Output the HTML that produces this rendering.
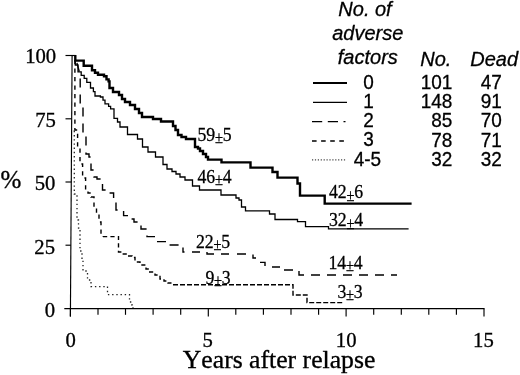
<!DOCTYPE html>
<html><head><meta charset="utf-8"><title>Survival after relapse</title>
<style>
html,body{margin:0;padding:0;background:#fff;}
svg{display:block}
.s{font-family:"Liberation Serif","Times New Roman",serif;fill:#000;font-kerning:none}
.a{font-family:"Liberation Sans",Arial,sans-serif;fill:#000;font-kerning:none}
.i{font-style:italic}
</style></head>
<body>
<svg width="520" height="375" viewBox="0 0 520 375">
<rect width="520" height="375" fill="#fff"/>
<g stroke="#000" stroke-width="1.15" fill="none">
<line x1="64.3" y1="308.6" x2="484.5" y2="308.6"/>
<line x1="70.4" y1="316.4" x2="72.1" y2="55"/>
<line x1="70.4" y1="308.5" x2="70.4" y2="316.6"/><line x1="98.0" y1="308.5" x2="98.0" y2="314.8"/><line x1="125.5" y1="308.5" x2="125.5" y2="314.8"/><line x1="153.1" y1="308.5" x2="153.1" y2="314.8"/><line x1="180.7" y1="308.5" x2="180.7" y2="314.8"/><line x1="208.3" y1="308.5" x2="208.3" y2="316.6"/><line x1="235.8" y1="308.5" x2="235.8" y2="314.8"/><line x1="263.4" y1="308.5" x2="263.4" y2="314.8"/><line x1="291.0" y1="308.5" x2="291.0" y2="314.8"/><line x1="318.6" y1="308.5" x2="318.6" y2="314.8"/><line x1="346.1" y1="308.5" x2="346.1" y2="316.6"/><line x1="373.7" y1="308.5" x2="373.7" y2="314.8"/><line x1="401.3" y1="308.5" x2="401.3" y2="314.8"/><line x1="428.8" y1="308.5" x2="428.8" y2="314.8"/><line x1="456.4" y1="308.5" x2="456.4" y2="314.8"/><line x1="484.0" y1="308.5" x2="484.0" y2="316.6"/>
<line x1="65.5" y1="55.5" x2="75.6" y2="55.5"/><line x1="65.5" y1="118.8" x2="71.7" y2="118.8"/><line x1="65.5" y1="182.0" x2="71.3" y2="182.0"/><line x1="65.5" y1="245.2" x2="70.9" y2="245.2"/>
</g>
<g fill="none" stroke="#000" stroke-linejoin="miter">
<path d="M74.5,131H74.3V194H77V220H78.5V228H80V251H82V259H83V271H87.5V280H91V286.6H107.5V294.6H129.5V302H132V305H133V308" stroke="#222" stroke-width="1.3" stroke-dasharray="1.4 2.8"/>
<path d="M74.9,58H74.9V130H77.6V148H80V164H82.6V178H85.6V190H88V193H91V197H94V206H96.5V212H99V222H101V234H103V236.6" stroke-width="1.4" stroke-dasharray="4.3 4.2" stroke-dashoffset="6.5"/>
<path d="M103,236.6H118.5V252H122V254H128V256H132V257.5H135V262H140V263.5H142V265H146V269H149V272H155V275H160V279H164V281H168V283H171.5" stroke-width="1.4" stroke-dasharray="4.2 3.2"/>
<path d="M173,284.8H293V295H307V302.6H342.4" stroke-width="1.4" stroke-dasharray="5 2"/>
<path d="M75.6,58L80.2,75H80.2V104H83V136H86V154H89V157H91V170H94V177H97V179H102.5V190H108V193H113.6V200H116V210H123.6V215.6H130V219H134V222H141V229H147V236.6H155V241.6H167V245H183V252H184.5" stroke-width="1.4" stroke-dasharray="9 7" stroke-dashoffset="11"/>
<path d="M192,252H200M207,252V254H214M221,254H229M237,254H246M253,254.6V258H256M260,262.4H265V266M272,267H280M284,270H293M299,271V275H304M311,275H397" stroke-width="1.4" stroke-dasharray="9 7"/>
<path d="M75.3,60H75.3V65H78V71.8H81.2V75.3H84.2V78.4H86.8V82.4H90.5V88H93.4V91.6H95V96H100.4V97H103V100.2H105V103.8H108.6V106.3H110.6V108.8H114V118.4H117.5V122H120V127H127.5V134.5H137.5V139H142.5V147H148V152H155.5V157H163V164.5H167V169H172V171.5H176V174H180V177H185V180H192.5V186H199.5V190H221V195H236V198H239V200H241.5V207H245.5V210.8H269.5V214H275V219.5H297.5V221.6H305.5V226.6H328.5V228.8H408.6" stroke-width="1.3"/>
<path d="M75.3,54.9H75.3V60.6H83.7V65.7H92V70.3H95V72.8H98V74.8H104V76.3H106.5V79.4H108.6V81.4H109.5V88H113V92H119V95H122V99H125V102H130V105H135V109H139V113H142V117H153V119H161V121.5H173V126H175.5V130H178V135H181.5V137H186V139H195V147H198V148.5H200V151H203V154H206V157H208V159.6H221.5V162.4H250.5V167.6H272.5V172H277.5V177.6H297.5V183.5H300V195.6H324.7V203.6H411.6" stroke-width="2.4"/>
</g>
<g stroke="#000" fill="none">
<line x1="313" y1="83" x2="347" y2="83" stroke-width="2.2"/>
<line x1="313" y1="102.4" x2="347" y2="102.4" stroke-width="1.3"/>
<line x1="312" y1="121.6" x2="345.5" y2="121.6" stroke-width="1.3" stroke-dasharray="10.2 5.6 10.2 5.5 2 0"/>
<line x1="312" y1="140.9" x2="344.6" y2="140.9" stroke-width="1.5" stroke-dasharray="4.6 4.5"/>
<line x1="312" y1="159.8" x2="346" y2="159.8" stroke="#444" stroke-width="1.2" stroke-dasharray="1.2 1.7"/>
</g>
<text transform="translate(56.2 63.3) scale(0.94 1)" class="s" font-size="22" text-anchor="end" stroke="#000" stroke-width="0.35">100</text><text transform="translate(55.8 126.8) scale(0.94 1)" class="s" font-size="22" text-anchor="end" stroke="#000" stroke-width="0.35">75</text><text transform="translate(55.4 189.7) scale(0.94 1)" class="s" font-size="22" text-anchor="end" stroke="#000" stroke-width="0.35">50</text><text transform="translate(55.0 253.7) scale(0.94 1)" class="s" font-size="22" text-anchor="end" stroke="#000" stroke-width="0.35">25</text><text transform="translate(55.2 316.5) scale(0.94 1)" class="s" font-size="22" text-anchor="end" stroke="#000" stroke-width="0.35">0</text><text transform="translate(70.6 346.7) scale(0.94 1)" class="s" font-size="22" text-anchor="middle" stroke="#000" stroke-width="0.35">0</text><text transform="translate(207.6 347.1) scale(0.94 1)" class="s" font-size="22" text-anchor="middle" stroke="#000" stroke-width="0.35">5</text><text transform="translate(346.2 347.1) scale(0.94 1)" class="s" font-size="22" text-anchor="middle" stroke="#000" stroke-width="0.35">10</text><text transform="translate(483.4 347.4) scale(0.94 1)" class="s" font-size="22" text-anchor="middle" stroke="#000" stroke-width="0.35">15</text>
<text x="0.6" y="188.4" class="s" font-size="25" stroke="#000" stroke-width="0.35">%</text>
<text x="182.8" y="367.6" class="s" font-size="25.7" stroke="#000" stroke-width="0.35">Years after relapse</text>
<text transform="translate(197.5 141) scale(.91 1)" class="s" font-size="19.5" stroke="#000" stroke-width="0.3">59<tspan font-size="16" dy="2.2" dx="-0.3">±</tspan><tspan dy="-2.2" dx="-0.3">5</tspan></text>
<text transform="translate(197.5 183) scale(.91 1)" class="s" font-size="19.5" stroke="#000" stroke-width="0.3">46<tspan font-size="16" dy="2.2" dx="-0.3">±</tspan><tspan dy="-2.2" dx="-0.3">4</tspan></text>
<text transform="translate(196 248) scale(.91 1)" class="s" font-size="19.5" stroke="#000" stroke-width="0.3">22<tspan font-size="16" dy="2.2" dx="-0.3">±</tspan><tspan dy="-2.2" dx="-0.3">5</tspan></text>
<text transform="translate(205.5 283.6) scale(.91 1)" class="s" font-size="19.5" stroke="#000" stroke-width="0.3">9<tspan font-size="16" dy="2.2" dx="-0.3">±</tspan><tspan dy="-2.2" dx="-0.3">3</tspan></text>
<text transform="translate(329 198.3) scale(.91 1)" class="s" font-size="19.5" stroke="#000" stroke-width="0.3">42<tspan font-size="16" dy="2.2" dx="-0.3">±</tspan><tspan dy="-2.2" dx="-0.3">6</tspan></text>
<text transform="translate(329 226.3) scale(.91 1)" class="s" font-size="19.5" stroke="#000" stroke-width="0.3">32<tspan font-size="16" dy="2.2" dx="-0.3">±</tspan><tspan dy="-2.2" dx="-0.3">4</tspan></text>
<text transform="translate(328.5 269) scale(.91 1)" class="s" font-size="19.5" stroke="#000" stroke-width="0.3">14<tspan font-size="16" dy="2.2" dx="-0.3">±</tspan><tspan dy="-2.2" dx="-0.3">4</tspan></text>
<text transform="translate(337.5 298) scale(.91 1)" class="s" font-size="19.5" stroke="#000" stroke-width="0.3">3<tspan font-size="16" dy="2.2" dx="-0.3">±</tspan><tspan dy="-2.2" dx="-0.3">3</tspan></text>
<g class="a i" font-size="20" text-anchor="middle" stroke="#000" stroke-width="0.3">
<text x="365" y="15.6">No. of</text>
<text x="367.8" y="40">adverse</text>
<text x="367.8" y="64">factors</text>
</g>
<g class="a i" font-size="20" stroke="#000" stroke-width="0.3">
<text x="420.3" y="66">No.</text>
<text x="470.3" y="66">Dead</text>
</g>
<text transform="translate(368.5 88.9) scale(0.95 1)" class="a" font-size="20" text-anchor="middle" stroke="#000" stroke-width="0.3">0</text><text transform="translate(452.4 89.2) scale(0.95 1)" class="a" font-size="20" text-anchor="end" stroke="#000" stroke-width="0.3">101</text><text transform="translate(501.8 89.2) scale(0.95 1)" class="a" font-size="20" text-anchor="end" stroke="#000" stroke-width="0.3">47</text>
<text transform="translate(368.5 107.5) scale(0.95 1)" class="a" font-size="20" text-anchor="middle" stroke="#000" stroke-width="0.3">1</text><text transform="translate(452.4 107.8) scale(0.95 1)" class="a" font-size="20" text-anchor="end" stroke="#000" stroke-width="0.3">148</text><text transform="translate(501.8 107.8) scale(0.95 1)" class="a" font-size="20" text-anchor="end" stroke="#000" stroke-width="0.3">91</text>
<text transform="translate(368.5 126.8) scale(0.95 1)" class="a" font-size="20" text-anchor="middle" stroke="#000" stroke-width="0.3">2</text><text transform="translate(452.4 127.1) scale(0.95 1)" class="a" font-size="20" text-anchor="end" stroke="#000" stroke-width="0.3">85</text><text transform="translate(501.8 127.1) scale(0.95 1)" class="a" font-size="20" text-anchor="end" stroke="#000" stroke-width="0.3">70</text>
<text transform="translate(368.5 146.39999999999998) scale(0.95 1)" class="a" font-size="20" text-anchor="middle" stroke="#000" stroke-width="0.3">3</text><text transform="translate(452.4 146.7) scale(0.95 1)" class="a" font-size="20" text-anchor="end" stroke="#000" stroke-width="0.3">78</text><text transform="translate(501.8 146.7) scale(0.95 1)" class="a" font-size="20" text-anchor="end" stroke="#000" stroke-width="0.3">71</text>
<text transform="translate(367.4 165.79999999999998) scale(0.95 1)" class="a" font-size="20" text-anchor="middle" stroke="#000" stroke-width="0.3">4-5</text><text transform="translate(452.4 166.1) scale(0.95 1)" class="a" font-size="20" text-anchor="end" stroke="#000" stroke-width="0.3">32</text><text transform="translate(501.8 166.1) scale(0.95 1)" class="a" font-size="20" text-anchor="end" stroke="#000" stroke-width="0.3">32</text>

</svg>
</body></html>
